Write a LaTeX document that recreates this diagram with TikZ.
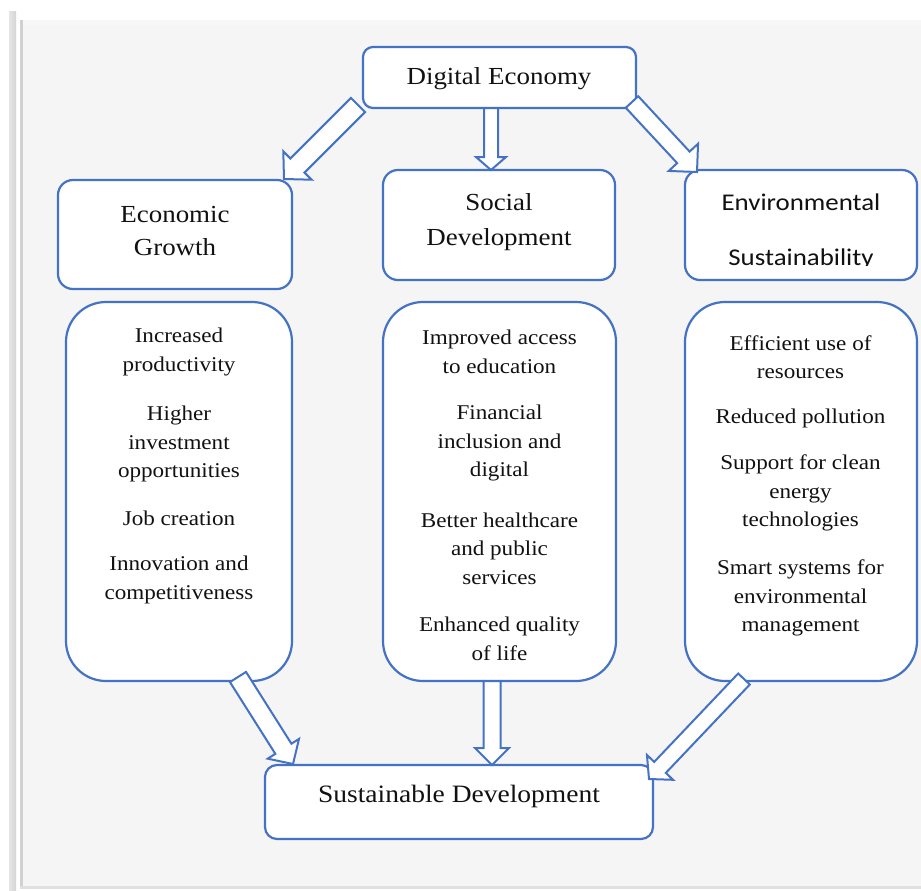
\documentclass[tikz,border=0pt]{standalone}
\usepackage{fontspec}
\setmainfont{Liberation Serif}
\newfontfamily\bodyf[FakeStretch=1.1]{Liberation Serif}
\newfontfamily\envf[FakeStretch=1.12]{Carlito}
\usetikzlibrary{calc}
\definecolor{bl}{HTML}{4472C4}
\definecolor{panel}{HTML}{F5F5F5}
\definecolor{shadowgray}{HTML}{D4D4D4}
\definecolor{ink}{HTML}{111111}
\tikzset{
  box/.style={draw=bl, line width=2.2pt, fill=white, inner sep=0pt},
  barrow/.style={draw=bl, line width=2pt, fill=white, line join=miter},
  itemtxt/.style={font=\bodyf\fontsize{21}{28.5}\selectfont, align=center, inner sep=0pt, text=ink},
  titletxt/.style={font=\bodyf\fontsize{24.5}{33}\selectfont, align=center, inner sep=0pt, text=ink},
}
% #1 shaft half width, #2 head half width, #3 head length, #4 from, #5 to
\newcommand\blockarrow[5]{%
  \draw[barrow] let \p1=(#4), \p2=(#5),
    \n1={veclen(\x2-\x1,\y2-\y1)},
    \n2={(\x2-\x1)/\n1}, \n3={(\y2-\y1)/\n1},
    \n4={\n1-(#3)} in
    ({\x1-\n3*(#1)},{\y1+\n2*(#1)}) --
    ({\x1+\n2*\n4-\n3*(#1)},{\y1+\n3*\n4+\n2*(#1)}) --
    ({\x1+\n2*\n4-\n3*(#2)},{\y1+\n3*\n4+\n2*(#2)}) --
    (\p2) --
    ({\x1+\n2*\n4+\n3*(#2)},{\y1+\n3*\n4-\n2*(#2)}) --
    ({\x1+\n2*\n4+\n3*(#1)},{\y1+\n3*\n4-\n2*(#1)}) --
    ({\x1+\n3*(#1)},{\y1-\n2*(#1)}) -- cycle;}
\begin{document}
\begin{tikzpicture}[x=1pt,y=-1pt]
\useasboundingbox (0,0) rectangle (921,891);
\fill[white] (0,0) rectangle (921,891);
% panel with shadow
\shade[left color=shadowgray!60, right color=shadowgray] (9,12) rectangle (16,891);
\fill[panel] (20,20) rectangle (921,889);
\fill[white!97!black] (20,20) rectangle (921,25);
\fill[black!18] (20,20) rectangle (23,889);
\fill[black!12] (20,886) rectangle (921,889);

% boxes
\node[box, rounded corners=10pt, minimum width=273pt, minimum height=61pt] (de) at (499.5,77.5) {};
\node[box, rounded corners=15pt, minimum width=234pt, minimum height=109pt] (eg) at (175,234.5) {};
\node[box, rounded corners=15pt, minimum width=232pt, minimum height=110pt] (sd) at (499,225) {};
\node[box, rounded corners=15pt, minimum width=232pt, minimum height=110pt] (es) at (801,225) {};
\node[box, rounded corners=40pt, minimum width=226pt, minimum height=379pt] (b1) at (179,491.5) {};
\node[box, rounded corners=40pt, minimum width=233pt, minimum height=379pt] (b2) at (499.5,491.5) {};
\node[box, rounded corners=40pt, minimum width=232pt, minimum height=379pt] (b3) at (801,491.5) {};
\node[box, rounded corners=12pt, minimum width=388pt, minimum height=74pt] (sus) at (459,802) {};

% titles
\node[titletxt] (tde) at (499,79) {Digital Economy};
\node[titletxt] (teg) at (175,231) {Economic\\Growth};
\node[titletxt, font=\bodyf\fontsize{24.5}{35}\selectfont] (tsd) at (499,222) {Social\\Development};
\begin{scope}
  \clip (686,172) rectangle (916,265);
  \node[align=center, inner sep=0pt, text=ink, font=\envf\fontsize{24}{55}\selectfont] (tes) at (801,232) {Environmental\\Sustainability};
\end{scope}
\node[titletxt, font=\bodyf\fontsize{25}{33}\selectfont] (tsus) at (459,796) {Sustainable Development};

% left items
\node[itemtxt] (l1) at (179,352) {Increased\\productivity};
\node[itemtxt] (l2) at (179,444) {Higher\\investment\\opportunities};
\node[itemtxt] (l3) at (179,518) {Job creation};
\node[itemtxt] (l4) at (179,580) {Innovation and\\competitiveness};
% middle items
\node[itemtxt] (m1) at (499.5,352) {Improved access\\to education};
\node[itemtxt] (m2) at (499.5,443) {Financial\\inclusion and\\digital};
\node[itemtxt] (m3) at (499.5,548.5) {Better healthcare\\and public\\services};
\node[itemtxt] (m4) at (499.5,639) {Enhanced quality\\of life};
% right items
\node[itemtxt] (r1) at (800.5,357) {Efficient use of\\resources};
\node[itemtxt] (r2) at (800.5,418) {Reduced pollution};
\node[itemtxt] (r3) at (800.5,493) {Support for clean\\energy\\technologies};
\node[itemtxt] (r4) at (800.5,598) {Smart systems for\\environmental\\management};

% arrow end points
\coordinate (a1s) at (358,105);  \coordinate (a1e) at (284,179);
\coordinate (a2s) at (491,108);  \coordinate (a2e) at (491,170);
\coordinate (a3s) at (632,102);  \coordinate (a3e) at (697,172);
\coordinate (a4s) at (238,677);  \coordinate (a4e) at (293,764);
\coordinate (a5s) at (492,681);  \coordinate (a5e) at (492,765);
\coordinate (a6s) at (744,679);  \coordinate (a6e) at (649,779);

\blockarrow{10}{20}{19}{a1s}{a1e}
\blockarrow{7}{15}{13}{a2s}{a2e}
\blockarrow{8.5}{20}{20}{a3s}{a3e}
\blockarrow{9.5}{18.5}{18}{a4s}{a4e}
\blockarrow{8.5}{17}{17}{a5s}{a5e}
\blockarrow{8}{18}{16}{a6s}{a6e}
\end{tikzpicture}
\end{document}
